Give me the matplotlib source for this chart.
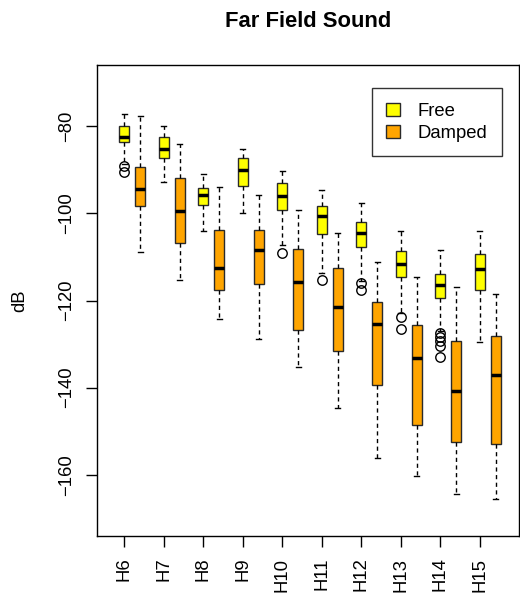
import matplotlib
matplotlib.use("Agg")
import matplotlib.pyplot as plt
from matplotlib.patches import Patch
import numpy as np

plt.rcParams['font.family'] = ['Liberation Sans', 'DejaVu Sans']

categories = ["H6", "H7", "H8", "H9", "H10", "H11", "H12", "H13", "H14", "H15"]

free_whislo = [-88.6, -92.8, -104.0, -99.9, -107.2, -113.7, -115.5, -122.9, -127.0, -129.5]
free_q1     = [-83.6, -87.3, -98.1, -93.7, -99.3, -104.7, -107.6, -114.7, -119.4, -117.6]
free_med    = [-82.5, -85.1, -95.7, -90.1, -96.0, -100.6, -104.6, -111.5, -116.5, -112.7]
free_q3     = [-79.9, -82.5, -94.1, -87.3, -93.1, -98.2, -102.0, -108.6, -113.8, -109.4]
free_whishi = [-77.1, -79.9, -91.0, -85.2, -90.2, -94.6, -97.5, -104.0, -108.4, -104.0]
free_fliers = [[-89.2, -90.4], [], [], [], [-109.2], [-115.3], [-116.0, -117.5],
               [-123.7, -126.5], [-127.5, -128.4, -129.4, -130.4, -132.9], []]

damp_whislo = [-108.9, -115.4, -124.2, -128.8, -135.2, -144.6, -156.1, -160.3, -164.4, -165.7]
damp_q1     = [-98.2, -106.9, -117.5, -116.1, -126.8, -131.6, -139.4, -148.5, -152.4, -152.9]
damp_med    = [-94.4, -99.4, -112.5, -108.5, -115.8, -121.6, -125.5, -133.3, -140.8, -137.2]
damp_q3     = [-89.3, -91.8, -103.9, -103.8, -108.2, -112.6, -120.3, -125.6, -129.2, -128.2]
damp_whishi = [-77.6, -84.0, -93.9, -95.7, -99.2, -104.5, -111.1, -114.7, -116.9, -118.5]
damp_fliers = [[] for _ in categories]

yticks = [-80, -100, -120, -140, -160]

fig = plt.figure(figsize=(5.2, 5.94), dpi=100)
ax = fig.add_axes([0.1865, 0.0976, 0.8115, 0.793])

def stats(lo, q1, med, q3, hi, fl):
    return [dict(whislo=a, q1=b, med=c, q3=d, whishi=e, fliers=f)
            for a, b, c, d, e, f in zip(lo, q1, med, q3, hi, fl)]

pos_free = np.arange(1, len(categories) + 1)
pos_damp = pos_free + 0.405
w = 0.26

for st, pos, col in [(stats(free_whislo, free_q1, free_med, free_q3, free_whishi, free_fliers), pos_free, "#FFFF00"),
                     (stats(damp_whislo, damp_q1, damp_med, damp_q3, damp_whishi, damp_fliers), pos_damp, "#FFA500")]:
    ax.bxp(st, positions=pos, widths=w, patch_artist=True, manage_ticks=False,
           boxprops=dict(facecolor=col, edgecolor="#2a2a2a", linewidth=1.0),
           medianprops=dict(color="black", linewidth=2.5, solid_capstyle="butt"),
           whiskerprops=dict(color="black", linestyle=(0, (3, 2.5)), linewidth=1.0),
           capprops=dict(color="black", linewidth=1.0),
           capwidths=w * 0.5,
           flierprops=dict(marker="o", markerfacecolor="none", markeredgecolor="black",
                           markersize=6.8, markeredgewidth=1.0))

ax.set_xlim(0.31, 10.99)
ax.set_ylim(-174.1, -65.9)
ax.set_xticks(pos_free)
ax.set_xticklabels(categories, rotation=90, fontsize=13.3)
ax.set_yticks(yticks)
ax.set_yticklabels([str(t).replace("-", "\u2212") for t in yticks], rotation=90, va="center", fontsize=13.3)
ax.tick_params(axis="x", length=8, width=1, color="black", pad=7.5)
ax.tick_params(axis="y", length=8, width=1, color="black", pad=8)
for s in ax.spines.values():
    s.set_color("black")
    s.set_linewidth(1)
ax.set_ylabel("dB", fontsize=13.3)
ax.yaxis.set_label_coords(-0.162, 0.5)
ax.set_title("Far Field Sound", fontsize=15.8, fontweight="bold", pad=27)

handles = [Patch(facecolor="#FFFF00", edgecolor="#2a2a2a", label="Free"),
           Patch(facecolor="#FFA500", edgecolor="#2a2a2a", label="Damped")]
leg = ax.legend(handles=handles, loc="upper right", bbox_to_anchor=(0.96, 0.951),
                borderaxespad=0, fontsize=13.3, frameon=True, fancybox=False, edgecolor="black",
                handlelength=0.76, handleheight=0.76, handletextpad=0.95, borderpad=0.79,
                labelspacing=0.25)
leg.get_frame().set_linewidth(1)

fig.savefig("out.png", dpi=100)
